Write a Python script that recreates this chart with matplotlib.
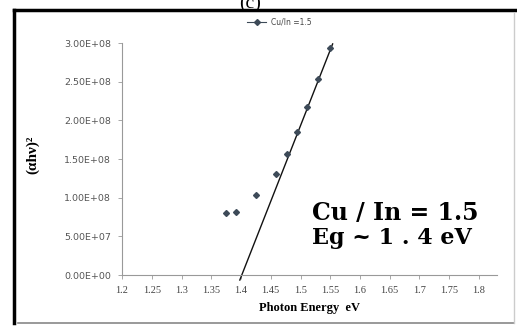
##################################################
# Cu/In = 1.5 : (alpha h nu)^2 vs photon energy
##################################################
import numpy as np
import matplotlib
matplotlib.use('Agg')
import matplotlib.pyplot as plt
from matplotlib.lines import Line2D

##################################################
# Data
##################################################
energy = [1.375, 1.392, 1.425, 1.459, 1.477, 1.494, 1.511, 1.530, 1.549]
ahv2 = [7.98e7, 8.1e7, 1.034e8, 1.302e8, 1.561e8, 1.845e8, 2.176e8, 2.534e8, 2.94e8]

# linear fit drawn through the upper points
fit_x = [1.398, 1.554]
fit_y = [-6.5e6, 2.99e8]

xticks = [1.2, 1.25, 1.3, 1.35, 1.4, 1.45, 1.5, 1.55, 1.6, 1.65, 1.7, 1.75, 1.8]
xtick_labels = ['1.2', '1.25', '1.3', '1.35', '1.4', '1.45', '1.5', '1.55',
                '1.6', '1.65', '1.7', '1.75', '1.8']
yticks = [0, 5e7, 1e8, 1.5e8, 2e8, 2.5e8, 3e8]
ytick_labels = ['0.00E+00', '5.00E+07', '1.00E+08', '1.50E+08',
                '2.00E+08', '2.50E+08', '3.00E+08']

##################################################
# Plot
##################################################
fig = plt.figure(figsize=(5.17, 3.27), dpi=100)
ax = fig.add_axes([0.236, 0.159, 0.725, 0.709])

pt_col = '#3d4a58'
ax.plot(energy, ahv2, linestyle='none', marker='D', markersize=3,
        color=pt_col, zorder=3)
ax.plot(fit_x, fit_y, color='#111111', linewidth=1.0, clip_on=False, zorder=2)

ax.set_xlim(1.2, 1.83)
ax.set_ylim(0, 3e8)
ax.set_xticks(xticks)
ax.set_xticklabels(xtick_labels, family='Liberation Serif', fontsize=7.5, color='#444444')
ax.set_yticks(yticks)
ax.set_yticklabels(ytick_labels, family='DejaVu Sans', fontsize=6.8, color='#555555')
ax.tick_params(axis='both', direction='out', length=3, width=0.6, color='#999999', pad=5)

for s in ['top', 'right']:
    ax.spines[s].set_visible(False)
for s in ['left', 'bottom']:
    ax.spines[s].set_color('#999999')
    ax.spines[s].set_linewidth(0.8)

ax.set_xlabel('Photon Energy  eV', family='Liberation Serif', fontweight='bold',
              fontsize=9, labelpad=5)
ax.set_ylabel('(αhν)²', family='Liberation Serif', fontweight='bold', fontsize=11)
ax.yaxis.set_label_coords(-0.22, 0.52)

# legend at the top
handle = Line2D([], [], color=pt_col, linewidth=0.8, marker='D', markersize=3)
ax.legend([handle], ['Cu/In =1.5'], loc='upper center', bbox_to_anchor=(0.42, 1.14),
          frameon=False, prop={'family': 'DejaVu Sans', 'size': 5.5},
          handlelength=2.5, handletextpad=0.6, labelcolor='#444444')

# annotation
ax.text(0.507, 0.266, 'Cu / In = 1.5', transform=ax.transAxes, family='DejaVu Serif',
        fontweight='bold', fontsize=17, va='center', ha='left')
ax.text(0.507, 0.16, 'Eg ~ 1 . 4 eV', transform=ax.transAxes, family='DejaVu Serif',
        fontweight='bold', fontsize=16, va='center', ha='left')

# panel label, cut at the top edge
fig.text(0.484, 0.99, '(c)', family='Liberation Serif', fontsize=14, ha='center', va='center')

# picture frame
fig.add_artist(Line2D([0.027, 0.027], [0.012, 0.97], color='black', linewidth=2.5,
                      transform=fig.transFigure))
fig.add_artist(Line2D([0.027, 1.0], [0.97, 0.97], color='black', linewidth=2.5,
                      transform=fig.transFigure))
fig.add_artist(Line2D([0.034, 0.995], [0.012, 0.012], color='#888888', linewidth=1.2,
                      transform=fig.transFigure))
fig.add_artist(Line2D([0.995, 0.995], [0.012, 0.96], color='#cccccc', linewidth=1.0,
                      transform=fig.transFigure))

plt.savefig('out.png', dpi=100)
